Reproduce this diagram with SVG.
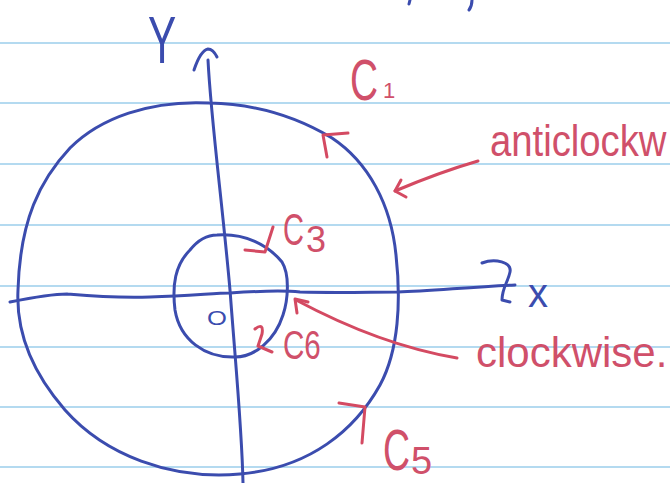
<svg xmlns="http://www.w3.org/2000/svg" width="670" height="483" viewBox="0 0 670 483">
<style>
.rule{stroke:#b4daf0;stroke-width:2;fill:none}
.blue{stroke:#3b4cae;stroke-width:3;fill:none;stroke-linecap:round;stroke-linejoin:round}
.red{stroke:#d44a62;stroke-width:3;fill:none;stroke-linecap:round;stroke-linejoin:round}
.tb{fill:#3b4cae;font-family:"Liberation Sans",Arial,sans-serif}
.tr{fill:#d0506a;font-family:"Liberation Sans",Arial,sans-serif}
</style>
<rect width="670" height="483" fill="#ffffff"/>
<g id="paper">
<line class="rule" x1="0" y1="43" x2="670" y2="43"/>
<line class="rule" x1="0" y1="103" x2="670" y2="103"/>
<line class="rule" x1="0" y1="164" x2="670" y2="164"/>
<line class="rule" x1="0" y1="225" x2="670" y2="225"/>
<line class="rule" x1="0" y1="286" x2="670" y2="286"/>
<line class="rule" x1="0" y1="347" x2="670" y2="347"/>
<line class="rule" x1="0" y1="407" x2="670" y2="407"/>
<line class="rule" x1="0" y1="467" x2="670" y2="467"/>
<path class="blue" d="M410,0 L409,4 M472,0 Q472,6 469,10"/>
</g>
<g id="connectors">
<g id="axis-y">
<path class="blue" d="M208,60 C211,120 222,200 230,290 C236,370 242,430 243,483"/>
<path class="blue" d="M194,70 C198,58 203,50 208,49 C212,49 215,53 217,57"/>
</g>
<g id="axis-x">
<path class="blue" d="M10,302 C30,298 50,294 67,294 C90,296 110,298 150,297 C190,296 215,293 230,293 C260,291 280,290 300,292 C340,293 370,292 398,292 C430,291 470,287 515,285"/>
<path class="blue" d="M482,263 C495,258 512,262 510,272 C508,282 502,288 502,300 L510,302"/>
</g>
<g id="circle-big">
<path class="blue" d="M209,103 C262,104 302,120 332,138 C368,162 391,204 396,255 C401,300 399,350 380,385 C355,430 310,468 240,474 C170,480 105,455 65,410 C30,370 16,330 18,290 C20,220 40,180 70,148 C100,118 150,100 209,103 Z"/>
</g>
<g id="circle-small">
<path class="blue" d="M217,235 C245,233 268,245 282,262 C290,275 288,300 283,315 C275,340 255,357 235,357 C205,358 180,340 175,310 C172,285 175,265 190,250 C198,240 207,235 217,235 Z"/>
</g>
<g id="ticks">
<path class="red" d="M348,133 L323,135 L327,157"/>
<path class="red" d="M245,250 L265,252 L273,227"/>
<path class="red" d="M255,329 Q264,322 262,334 L258,346 L272,352"/>
<path class="red" d="M339,403 L365,407 L362,443"/>
</g>
<g id="arrow-anticlockwise">
<path class="red" d="M478,161 Q440,172 395,191"/>
<path class="red" d="M401,180 L395,191 L406,197"/>
</g>
<g id="arrow-clockwise">
<path class="red" d="M457,358 Q380,345 296,300"/>
<path class="red" d="M308,302 L295,299 L297,313"/>
</g>
</g>
<g id="labels">
<text id="label-y" class="tb" transform="translate(148,63) scale(0.64,1)" font-size="66">Y</text>
<text id="label-x" class="tb" x="528" y="307" font-size="40">x</text>
<text id="label-o" class="tb" transform="translate(207,325) scale(1.28,1)" font-size="20">O</text>
<g id="label-c1">
<text class="tr" transform="translate(350,100) scale(0.67,1)" font-size="58">C</text>
<text class="tr" x="383" y="98" font-size="22">1</text>
</g>
<g id="label-c3">
<text class="tr" transform="translate(283,245) scale(0.66,1)" font-size="44">C</text>
<text class="tr" x="306" y="252" font-size="36">3</text>
</g>
<text id="label-c6" class="tr" transform="translate(283,359) scale(0.74,1)" font-size="40">C6</text>
<g id="label-c5">
<text class="tr" transform="translate(383,470) scale(0.645,1)" font-size="58">C</text>
<text class="tr" x="411" y="474" font-size="38">5</text>
</g>
<text id="label-anticlockwise" class="tr" transform="translate(490,156) scale(0.87,1)" font-size="44">anticlockw</text>
<text id="label-clockwise" class="tr" x="476" y="367" font-size="42">clockwise.</text>
</g>
</svg>
